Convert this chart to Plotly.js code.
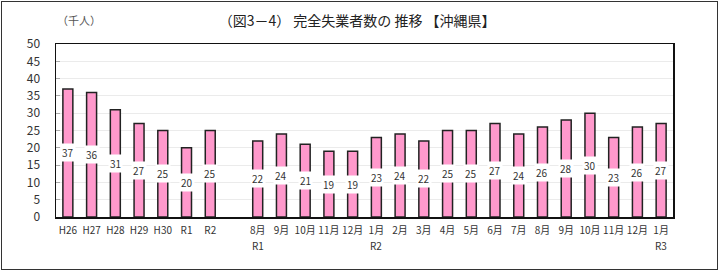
<!DOCTYPE html>
<html>
<head>
<meta charset="utf-8">
<script src="https://cdn.plot.ly/plotly-3.0.1.min.js"></script>
<style>
  html, body { margin: 0; padding: 0; background: #fff; }
  #wrap { position: relative; width: 720px; height: 272px; }
  #chart { width: 720px; height: 272px; }
  #frame { position: absolute; left: 1px; top: 1px; width: 715px; height: 267px; border: 1.5px solid #333; pointer-events: none; }
</style>
</head>
<body>
<div id="wrap">
  <div id="chart"></div>
  <div id="frame"></div>
</div>
<script>
const categories = ["H26","H27","H28","H29","H30","R1","R2"," ",
  "8月","9月","10月","11月","12月","1月","2月","3月","4月","5月","6月","7月","8月","9月","10月","11月","12月","1月"];
// second line of the tick labels (year marks under some months)
const yearLabels = ["","","","","","","","",
  "R1","","","","","R2","","","","","","","","","","","","R3"];
// unique keys for categories (monthly labels repeat)
const catKeys = categories.map((c, i) => "c" + i);
const values = [37,36,31,27,25,20,25,null,
  22,24,21,19,19,23,24,22,25,25,27,24,26,28,30,23,26,27];
const yTicks = [0,5,10,15,20,25,30,35,40,45,50];

const font = '"Noto Sans CJK JP", "Noto Sans", sans-serif';

const trace = {
  type: 'bar',
  x: catKeys,
  y: values,
  marker: { color: '#FF99CC', line: { color: '#222', width: 1.5 } },
  hoverinfo: 'skip'
};

const annotations = [];
values.forEach((v, i) => {
  if (v === null) return;
  annotations.push({
    x: catKeys[i], y: v / 2, xref: 'x', yref: 'y',
    text: String(v), showarrow: false,
    bgcolor: '#ffffff', borderpad: 1,
    font: { family: font, size: 10, color: '#333' }
  });
});
yearLabels.forEach((t, i) => {
  if (!t) return;
  annotations.push({
    x: catKeys[i], xref: 'x', yref: 'paper', y: -0.165,
    yanchor: 'middle', text: t, showarrow: false,
    font: { family: font, size: 10, color: '#333' }
  });
});
annotations.push({
  xref: 'paper', yref: 'paper', x: 0.037, y: 1.139,
  xanchor: 'center', yanchor: 'middle',
  text: '（千人）', showarrow: false,
  font: { family: font, size: 11, color: '#555' }
});

const layout = {
  width: 720, height: 272,
  margin: { l: 56, r: 47, t: 44, b: 55 },
  paper_bgcolor: '#fff', plot_bgcolor: '#fff',
  title: {
    text: '（図3－4） 完全失業者数の 推移 【沖縄県】',
    xref: 'container', yref: 'container', x: 0.496, y: 0.924,
    xanchor: 'center', yanchor: 'middle',
    font: { family: font, size: 14, color: '#222' }
  },
  bargap: 0.58,
  showlegend: false,
  xaxis: {
    type: 'category',
    tickmode: 'array', tickvals: catKeys, ticktext: categories,
    ticks: '', showgrid: false,
    showline: true, linecolor: '#111', linewidth: 1.5, mirror: true,
    tickfont: { family: font, size: 10, color: '#333' },
    ticklabelstandoff: 3,
    range: [-0.5, categories.length - 0.5],
    fixedrange: true
  },
  yaxis: {
    range: [0, 50],
    tickmode: 'array', tickvals: yTicks,
    showgrid: true, gridcolor: '#ebebeb', gridwidth: 1,
    showline: true, linecolor: '#111', linewidth: 1.5, mirror: true,
    ticks: 'inside', ticklen: 4, tickcolor: '#aaa',
    tickfont: { family: font, size: 12, color: '#333' },
    ticklabelstandoff: 12,
    zeroline: false,
    fixedrange: true
  },
  annotations: annotations
};

Plotly.newPlot('chart', [trace], layout, { staticPlot: true, displayModeBar: false });
</script>
</body>
</html>
